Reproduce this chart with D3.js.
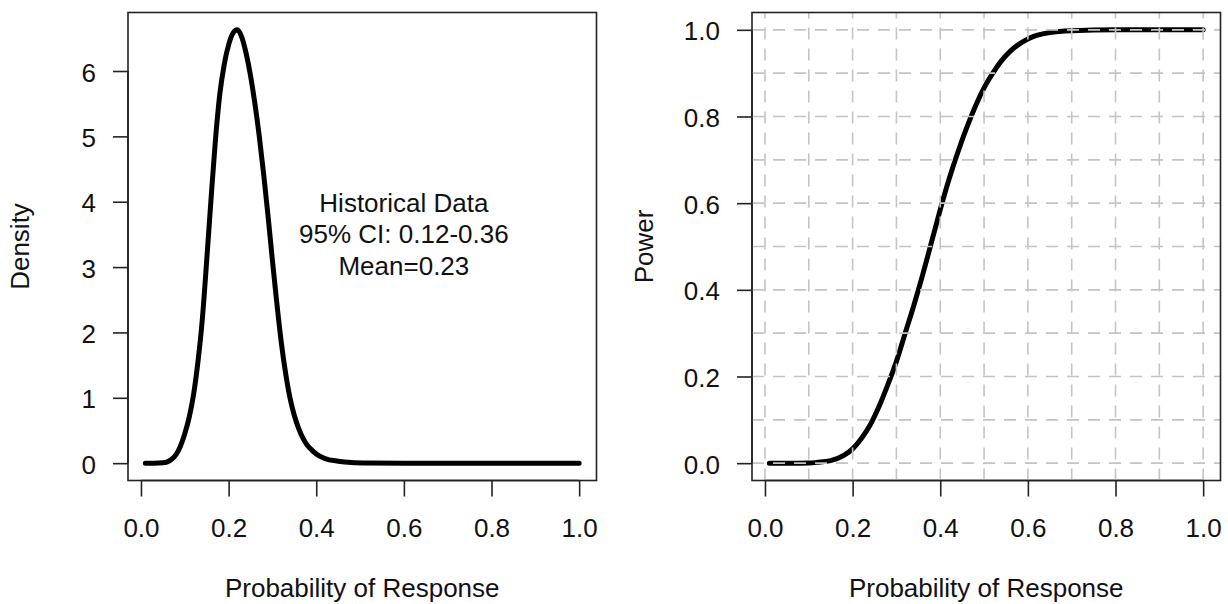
<!DOCTYPE html>
<html>
<head>
<meta charset="utf-8">
<script src="https://cdn.jsdelivr.net/npm/d3@7"></script>
<style>
  html, body { margin: 0; padding: 0; background: #fff; }
  svg { display: block; font-family: "Liberation Sans", Arial, Helvetica, sans-serif; }
</style>
</head>
<body>
<svg id="chart" width="1228" height="604"></svg>
<script>
// values
const densityX = [0.01, 0.03, 0.05, 0.06, 0.07, 0.08, 0.09, 0.10, 0.11, 0.12, 0.13, 0.14, 0.15,
                  0.16, 0.17, 0.18, 0.19, 0.20, 0.21, 0.22, 0.23, 0.24, 0.25, 0.26, 0.27, 0.28,
                  0.29, 0.30, 0.31, 0.32, 0.33, 0.34, 0.35, 0.36, 0.37, 0.38, 0.39, 0.40, 0.42,
                  0.45, 0.48, 0.52, 0.60, 0.80, 1.00];
const densityY = [0, 0, 0.005, 0.02, 0.06, 0.13, 0.26, 0.45, 0.70, 1.05, 1.55, 2.2, 3.1,
                  4.05, 4.95, 5.65, 6.1, 6.4, 6.58, 6.63, 6.52, 6.27, 5.93, 5.5, 5.0, 4.42,
                  3.78, 3.1, 2.45, 1.86, 1.38, 1.0, 0.73, 0.53, 0.38, 0.27, 0.2, 0.14, 0.07,
                  0.03, 0.01, 0.003, 0, 0, 0];

const powerX = [0.01, 0.05, 0.10, 0.12, 0.15, 0.18, 0.20, 0.22, 0.24, 0.26, 0.28, 0.30, 0.32,
                0.34, 0.36, 0.38, 0.40, 0.42, 0.44, 0.46, 0.48, 0.50, 0.52, 0.54, 0.56, 0.58,
                0.60, 0.62, 0.65, 0.70, 0.80, 1.00];
const powerY = [0, 0, 0.0005, 0.002, 0.006, 0.018, 0.033, 0.057, 0.088, 0.13, 0.18, 0.235, 0.30,
                0.365, 0.435, 0.51, 0.585, 0.655, 0.717, 0.773, 0.823, 0.866, 0.9, 0.929, 0.951, 0.967,
                0.979, 0.987, 0.994, 0.998, 1.0, 1.0];

const xTicks = [0, 0.2, 0.4, 0.6, 0.8, 1.0];
const densityTicks = [0, 1, 2, 3, 4, 5, 6];
const powerTicks = [0, 0.2, 0.4, 0.6, 0.8, 1.0];
const gridSteps = [0, 0.1, 0.2, 0.3, 0.4, 0.5, 0.6, 0.7, 0.8, 0.9, 1.0];

const noteLines = ["Historical Data", "95% CI: 0.12-0.36", "Mean=0.23"];
const xTitle = "Probability of Response";

const svg = d3.select("#chart");
const FONT = 26;
const INK = "#222";

// R-style axis extents: data range padded by 4%
function pad(lo, hi) { const d = (hi - lo) * 0.04; return [lo - d, hi + d]; }

function panel(left, yDomain, yTicks, yFmt, yTitle) {
  const top = 12.5, W = 468.5, H = 468;
  const x = d3.scaleLinear().domain(pad(0.01, 1)).range([left, left + W]);
  const y = d3.scaleLinear().domain(yDomain).range([top + H, top]);
  const g = svg.append("g");

  // x axis
  const xa = g.append("g").attr("transform", `translate(0,${top + H})`)
    .call(d3.axisBottom(x).tickValues(xTicks).tickFormat(d3.format(".1f"))
      .tickSize(16).tickPadding(0));
  xa.select(".domain").attr("d", `M${x(0)},0H${x(1)}`).attr("stroke", INK).attr("stroke-width", 1.6);
  xa.selectAll(".tick line").attr("stroke", INK).attr("stroke-width", 1.6);
  xa.selectAll(".tick text").attr("y", 56.5).attr("dy", null)
    .attr("font-size", FONT).attr("font-family", null).attr("fill", "#111");

  // y axis
  const ya = g.append("g").attr("transform", `translate(${left},0)`)
    .call(d3.axisLeft(y).tickValues(yTicks).tickFormat(yFmt).tickSize(15).tickPadding(0));
  ya.select(".domain").attr("d", `M0,${y(yTicks[0])}V${y(yTicks[yTicks.length - 1])}`)
    .attr("stroke", INK).attr("stroke-width", 1.6);
  ya.selectAll(".tick line").attr("stroke", INK).attr("stroke-width", 1.6);
  ya.selectAll(".tick text").attr("x", -32).attr("dy", null).attr("y", 10)
    .attr("font-size", FONT).attr("font-family", null).attr("fill", "#111");

  // titles
  g.append("text").attr("x", left + W / 2).attr("y", 597)
    .attr("text-anchor", "middle").attr("font-size", FONT).attr("fill", "#111").text(xTitle);
  g.append("text").attr("transform", `translate(${left - 99},${top + H / 2}) rotate(-90)`)
    .attr("text-anchor", "middle").attr("font-size", FONT).attr("fill", "#111").text(yTitle);

  const plot = g.append("g");
  g.append("rect").attr("x", left).attr("y", top).attr("width", W).attr("height", H)
    .attr("fill", "none").attr("stroke", INK).attr("stroke-width", 1.6);

  return { x, y, plot, left, top, W, H };
}

function curve(p, xs, ys) {
  const line = d3.line().x((d, i) => p.x(xs[i])).y(d => p.y(d)).curve(d3.curveMonotoneX);
  p.plot.append("path").datum(ys).attr("d", line)
    .attr("fill", "none").attr("stroke", "#000").attr("stroke-width", 5)
    .attr("stroke-linecap", "round").attr("stroke-linejoin", "round");
}

// left: density
const left = panel(128, pad(0, 6.63), densityTicks, d3.format("d"), "Density");
curve(left, densityX, densityY);
const noteY = left.y(3.5) + 9;
left.plot.selectAll("text.note").data(noteLines).join("text")
  .attr("class", "note")
  .attr("x", left.x(0.6))
  .attr("y", (d, i) => noteY + (i - 1) * 31.3)
  .attr("text-anchor", "middle").attr("font-size", FONT).attr("fill", "#111")
  .text(d => d);

// right: power with dashed grid on top
const right = panel(752, pad(0, 1), powerTicks, d3.format(".1f"), "Power");
curve(right, powerX, powerY);
const grid = right.plot.append("g")
  .attr("stroke", "#c4c4c4").attr("stroke-width", 1.6).attr("stroke-dasharray", "12,9");
grid.selectAll("line.v").data(gridSteps).join("line").attr("class", "v")
  .attr("x1", d => right.x(d)).attr("x2", d => right.x(d))
  .attr("y1", right.top + right.H).attr("y2", right.top);
grid.selectAll("line.h").data(gridSteps).join("line").attr("class", "h")
  .attr("x1", right.left).attr("x2", right.left + right.W)
  .attr("y1", d => right.y(d)).attr("y2", d => right.y(d));
</script>
</body>
</html>
